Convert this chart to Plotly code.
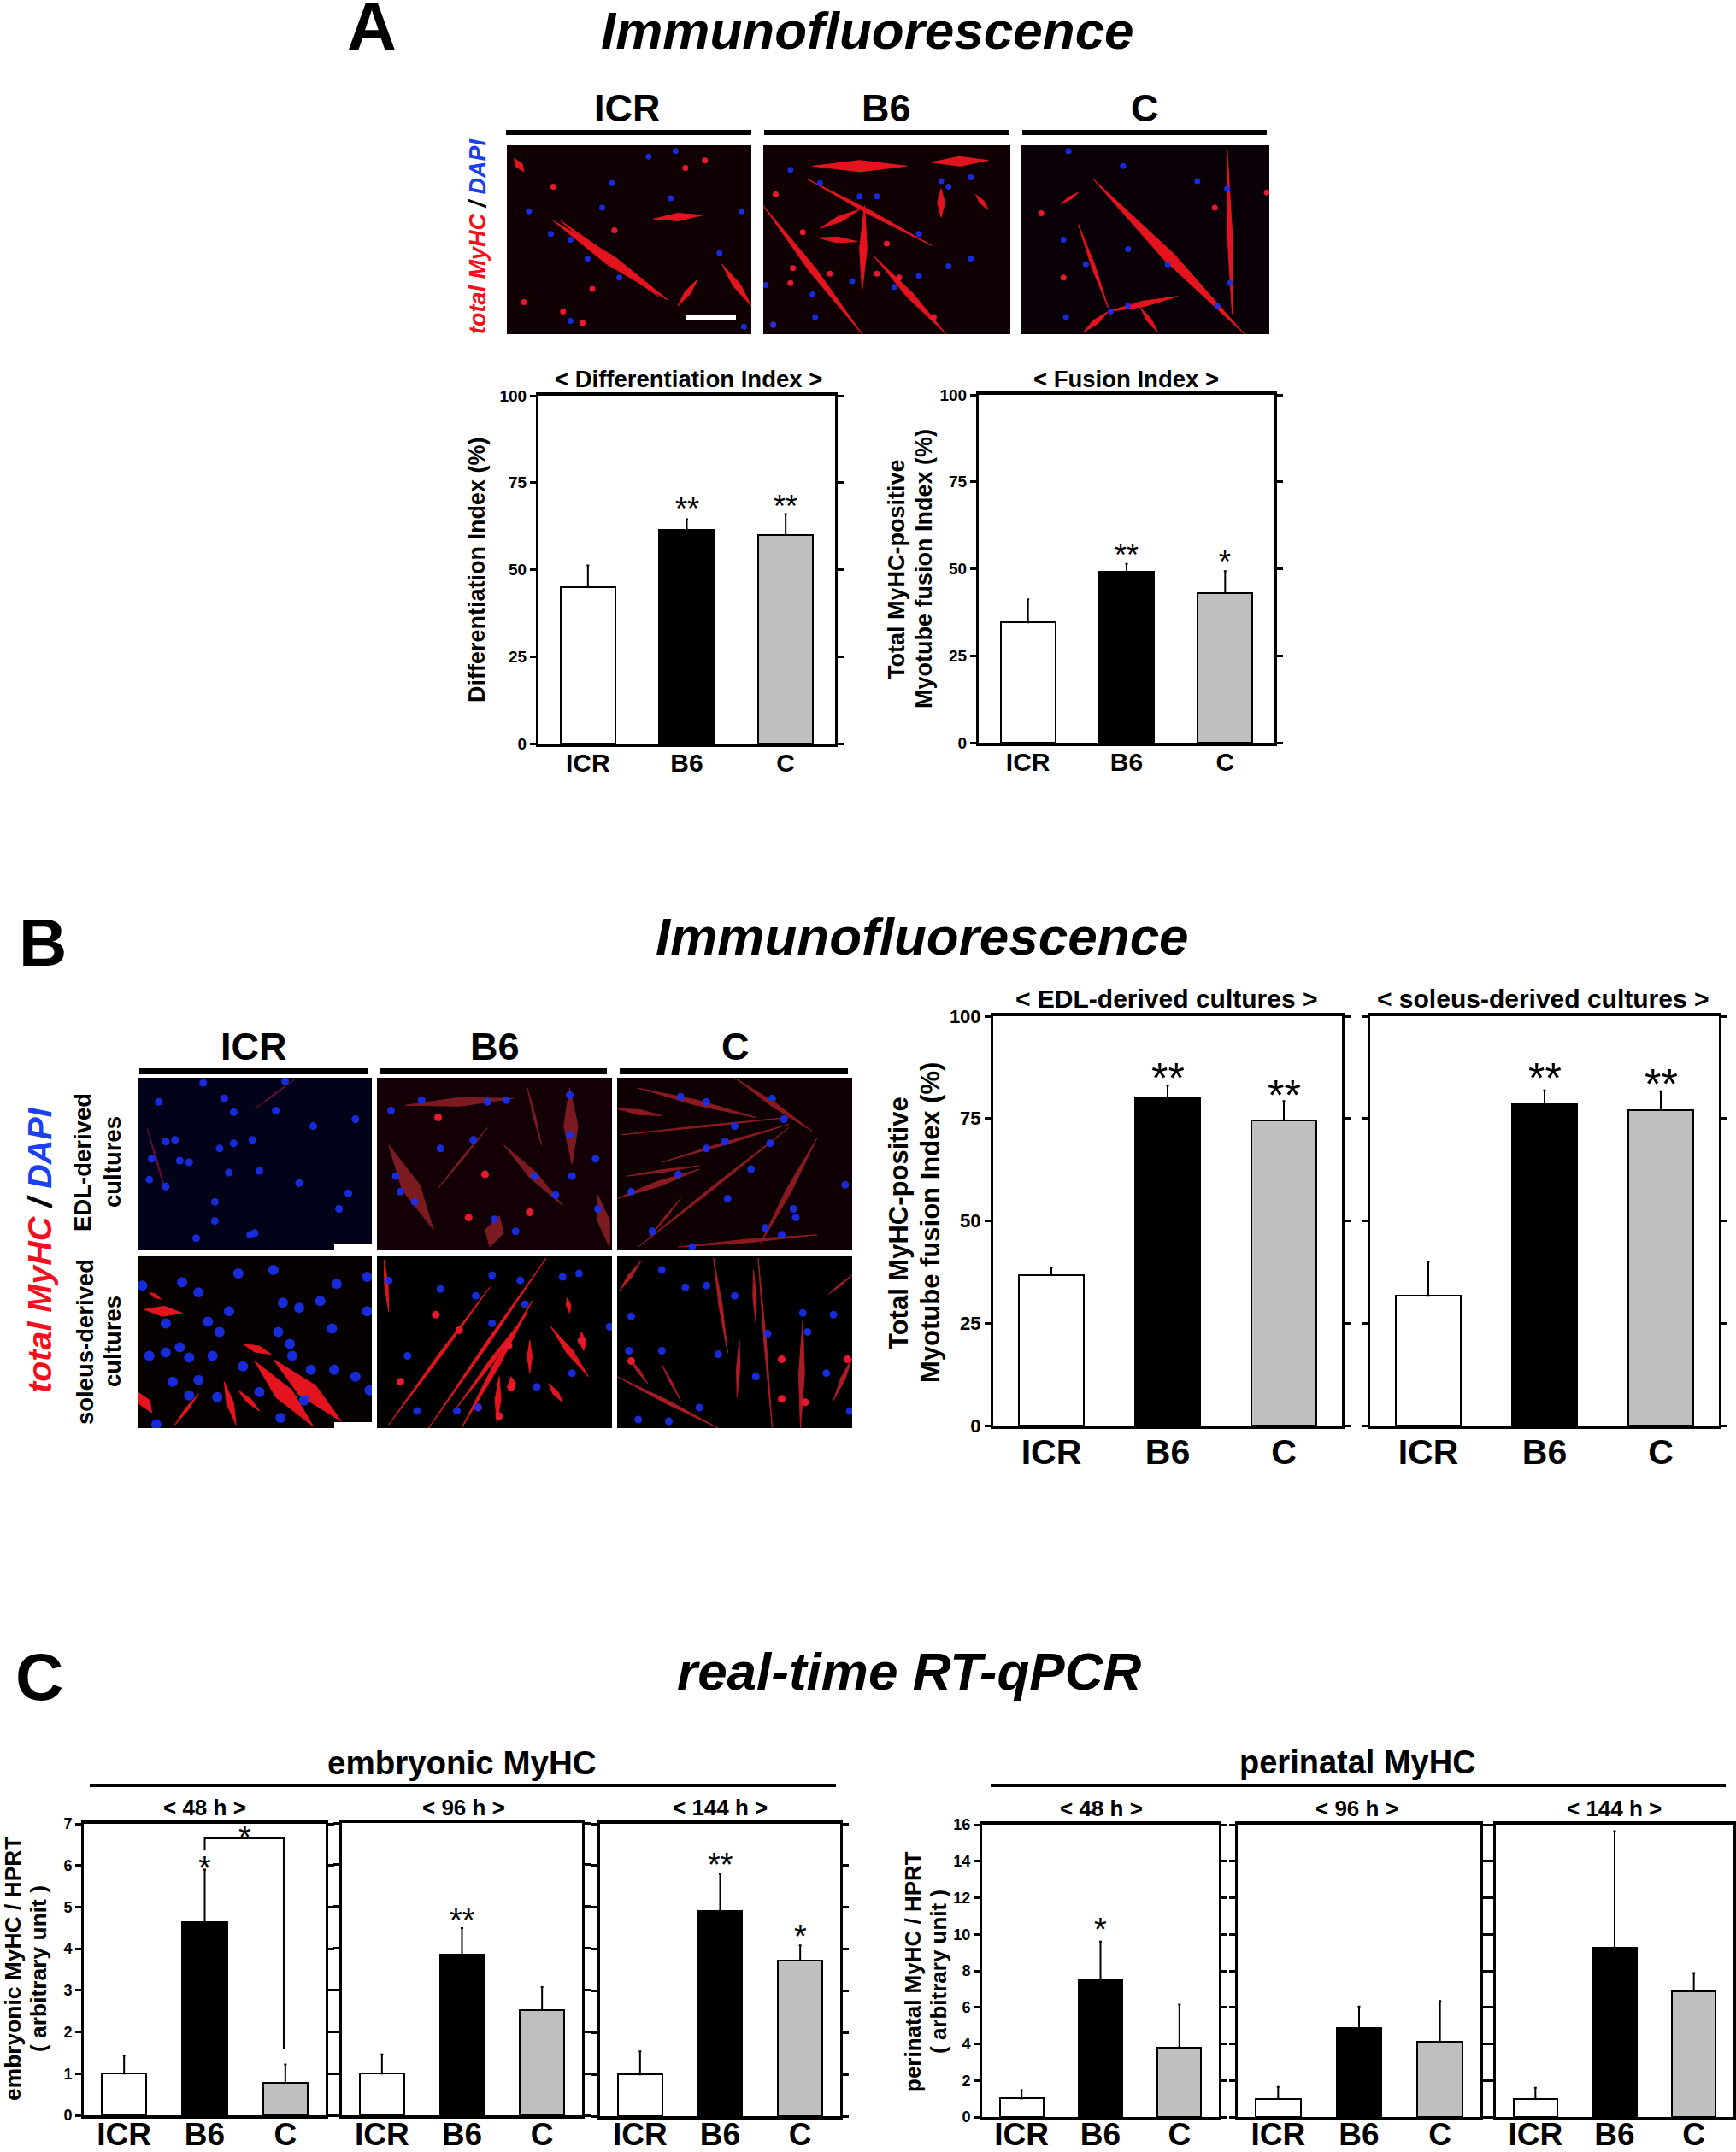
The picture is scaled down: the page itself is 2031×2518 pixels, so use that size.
import plotly.graph_objects as go

W = 2031
H = 2518
FONT = "Liberation Sans"

strains = ["ICR", "B6", "C"]
bar_colors = ["white", "black", "#bfbfbf"]

# panel A
diff_mean = [45, 61.5, 60]
diff_err = [6.2, 3, 6]
diff_stars = ["", "**", "**"]
diff_star_y = [0, 69.1, 70]
fus_mean = [34.6, 49.1, 43]
fus_err = [6.6, 2.3, 6.3]
fus_stars = ["", "**", "*"]
fus_star_y = [0, 55.7, 53.7]

# panel B
edl_mean = [36.8, 80, 74.6]
edl_err = [1.8, 3, 4.7]
edl_stars = ["", "**", "**"]
edl_star_y = [0, 86.8, 82.6]
sol_mean = [31.7, 78.4, 77.1]
sol_err = [8.3, 3.5, 4.6]
sol_stars = ["", "**", "**"]
sol_star_y = [0, 86.8, 85.4]

# panel C, embryonic
emb48_mean = [1, 4.63, 0.78]
emb48_err = [0.43, 1.27, 0.44]
emb48_stars = ["", "*", ""]
emb48_star_y = [0, 6.09, 0]
emb96_mean = [1, 3.85, 2.52]
emb96_err = [0.46, 0.63, 0.55]
emb96_stars = ["", "**", ""]
emb96_star_y = [0, 4.82, 0]
emb144_mean = [1, 4.92, 3.73]
emb144_err = [0.55, 0.88, 0.36]
emb144_stars = ["", "**", "*"]
emb144_star_y = [0, 6.18, 4.45]
bracket_x = [1.0, 1.0, 1.98, 1.98]
bracket_y = [6.36, 6.65, 6.65, 1.6]

# panel C, perinatal
per48_mean = [1.01, 7.52, 3.81]
per48_err = [0.46, 2.08, 2.34]
per48_stars = ["", "*", ""]
per48_star_y = [0, 10.6, 0]
per96_mean = [1, 4.85, 4.1]
per96_err = [0.65, 1.2, 2.25]
per96_stars = ["", "", ""]
per96_star_y = [0, 0, 0]
per144_mean = [1, 9.28, 6.9]
per144_err = [0.6, 6.37, 0.98]
per144_stars = ["", "", ""]
per144_star_y = [0, 0, 0]

# micrographs: what can be read off each photo, in percent of the photo
# fibres are x0, y0, x1, y1, thickness
a_icr_fibres = [(19, 40, 66, 82, 5), (22, 40, 62, 80, 3), (88, 63, 100, 85, 3), (78, 71, 70, 85, 2.5), (60, 39, 80, 37, 4), (3, 7, 7, 14, 3)]
a_icr_nuclei = [(58, 6), (69, 3), (43, 20), (67, 28), (39, 33), (96, 35), (18, 47), (33, 60), (87, 57), (26, 93), (97, 96), (9, 35), (26, 50), (46, 70)]
a_icr_spots = [(73, 12), (19, 22), (44, 45), (7, 83), (31, 94), (23, 88), (35, 76), (81, 8)]
a_b6_fibres = [(20, 11, 58, 11, 6), (68, 9, 91, 8, 5), (18, 18, 68, 53, 2), (0, 32, 40, 100, 3), (41, 32, 40, 77, 3), (45, 59, 74, 100, 3), (72, 23, 72, 38, 3), (86, 26, 91, 34, 2), (23, 44, 39, 34, 3), (22, 49, 38, 51, 3)]
a_b6_nuclei = [(23, 20), (39, 27), (46, 27), (72, 19), (75, 22), (84, 17), (11, 13), (63, 47), (84, 60), (75, 64), (63, 69), (20, 79), (21, 91), (4, 95), (36, 72), (1, 74), (53, 75)]
a_b6_spots = [(12, 65), (27, 68), (46, 68), (55, 70), (50, 52), (16, 46), (5, 26), (11, 73), (69, 91), (4, 95)]
a_c_fibres = [(29, 18, 90, 100, 5), (83, 2, 85, 89, 2), (23, 42, 35, 86, 1.5), (35, 88, 63, 80, 3), (35, 88, 25, 99, 2.5), (48, 86, 55, 99, 2), (16, 31, 23, 25, 1.5)]
a_c_nuclei = [(19, 3), (41, 11), (71, 19), (83, 23), (43, 55), (17, 50), (26, 63), (18, 91), (43, 85), (36, 88), (79, 85), (84, 73), (59, 63)]
a_c_spots = [(8, 36), (17, 70), (99, 25), (78, 33)]
b1_icr_fibres = [(4, 29, 12, 66, 0.8), (50, 18, 67, 1, 0.8)]
b1_icr_nuclei = [(28, 3), (63, 2), (9, 14), (37, 12), (41, 20), (59, 19), (93, 24), (75, 28), (49, 36), (41, 38), (35, 41), (16, 36), (12, 37), (6, 47), (18, 48), (22, 49), (39, 55), (52, 54), (5, 59), (12, 63), (69, 61), (90, 67), (33, 72), (86, 76), (33, 83), (48, 91), (50, 90), (25, 93)]
b1_b6_fibres = [(12, 16, 58, 12, 5), (54, 39, 79, 74, 4), (26, 64, 47, 29, 1), (5, 39, 24, 88, 8), (82, 6, 83, 50, 6), (48, 98, 52, 80, 8), (64, 6, 70, 39, 1), (94, 68, 99, 98, 5)]
b1_b6_nuclei = [(19, 13), (47, 14), (55, 13), (82, 10), (82, 33), (41, 36), (27, 41), (8, 57), (10, 66), (16, 72), (67, 57), (76, 68), (83, 57), (59, 89), (50, 82), (94, 76), (93, 47), (6, 19)]
b1_b6_spots = [(26, 23), (65, 78), (39, 81), (46, 56)]
b1_c_fibres = [(50, 0, 83, 31, 2.5), (9, 6, 59, 23, 3), (2, 33, 73, 23, 1), (4, 57, 35, 51, 1.5), (0, 70, 35, 53, 3), (19, 49, 73, 27, 1.5), (9, 98, 73, 29, 1.5), (61, 96, 85, 35, 2.5), (26, 98, 85, 91, 2), (0, 18, 19, 22, 3), (14, 92, 27, 70, 1)]
b1_c_nuclei = [(27, 11), (38, 14), (50, 28), (66, 12), (71, 24), (38, 41), (46, 37), (65, 38), (57, 53), (26, 56), (6, 66), (47, 70), (75, 76), (76, 81), (63, 87), (15, 89), (32, 98), (97, 62), (70, 91)]
b2_icr_fibres = [(45, 51, 57, 57, 4), (50, 61, 75, 99, 8), (58, 60, 87, 96, 9), (3, 31, 19, 33, 6), (37, 73, 42, 98, 3), (0, 79, 6, 91, 5), (5, 21, 10, 25, 2), (43, 78, 52, 90, 2.5), (16, 98, 26, 80, 1.5)]
b2_icr_nuclei = [(2, 17), (19, 15), (43, 10), (58, 8), (85, 16), (98, 12), (78, 26), (62, 27), (69, 30), (98, 32), (30, 38), (12, 39), (35, 44), (60, 44), (83, 42), (22, 59), (5, 58), (12, 56), (18, 53), (32, 58), (66, 58), (45, 64), (74, 66), (84, 66), (15, 73), (26, 72), (22, 81), (34, 82), (52, 79), (71, 84), (61, 94), (8, 98), (93, 70), (99, 78), (65, 51), (26, 21), (39, 32)]
b2_b6_fibres = [(22, 100, 72, 1, 1.5), (5, 98, 48, 18, 1.5), (36, 100, 66, 26, 2.5), (34, 88, 64, 33, 2), (74, 41, 90, 70, 3), (65, 49, 65, 68, 2), (87, 44, 88, 55, 3), (73, 74, 79, 85, 2.5), (3, 2, 5, 32, 1.5), (81, 24, 82, 33, 2), (52, 70, 51, 97, 2.5), (57, 70, 58, 78, 3)]
b2_b6_nuclei = [(42, 23), (63, 28), (49, 39), (79, 12), (99, 41), (68, 76), (83, 68), (34, 90), (17, 90), (13, 58), (49, 11), (86, 10), (27, 19), (5, 14), (61, 14), (43, 88)]
b2_b6_spots = [(25, 34), (10, 73), (43, 88), (52, 93), (87, 49), (35, 43), (56, 52), (57, 76)]
b2_c_fibres = [(41, 1, 47, 56, 1.5), (60, 1, 66, 100, 1), (52, 49, 51, 82, 1.5), (79, 37, 78, 100, 2.5), (0, 70, 43, 100, 2), (5, 59, 13, 74, 1.5), (19, 63, 27, 84, 1), (1, 20, 10, 3, 2), (92, 84, 100, 59, 2), (90, 22, 100, 11, 1), (58, 8, 59, 39, 1.5)]
b2_c_nuclei = [(19, 8), (29, 18), (38, 17), (50, 23), (79, 33), (92, 34), (6, 35), (64, 45), (5, 55), (19, 55), (43, 57), (81, 44), (59, 70), (89, 68), (35, 88), (22, 96), (9, 95), (99, 90)]
b2_c_spots = [(70, 60), (6, 61), (80, 85), (70, 83), (98, 60)]

fig = go.Figure()
layout = dict(
    width=W, height=H, autosize=False, showlegend=False, bargap=0,
    margin=dict(l=0, r=0, t=0, b=0, pad=0),
    paper_bgcolor="white", plot_bgcolor="rgba(0,0,0,0)",
    font=dict(family=FONT, color="black"),
)
annotations = []
shapes = []
n_axes = 0


def px_x(x):
    return x / W


def px_y(y):
    return 1 - y / H


def text(x, y, s, size, angle=0, bold=True):
    if bold:
        s = "<b>" + s + "</b>"
    annotations.append(dict(xref="paper", yref="paper", x=px_x(x), y=px_y(y), text=s,
                            showarrow=False, xanchor="center", yanchor="middle",
                            textangle=angle, font=dict(family=FONT, size=size, color="black")))


def rect(x0, y0, x1, y1, color, layer="above"):
    shapes.append(dict(type="rect", xref="paper", yref="paper", x0=px_x(x0), x1=px_x(x1),
                       y0=px_y(y0), y1=px_y(y1), fillcolor=color, line=dict(width=0), layer=layer))


def new_axes(x0, x1, y0, y1):
    global n_axes
    n_axes += 1
    suffix = "" if n_axes == 1 else str(n_axes)
    return suffix, [px_x(x0), px_x(x1)], [px_y(y1), px_y(y0)]


def bar_chart(x0, x1, y0, y1, mean, err, stars, star_y, ymax, dtick, tick_size, label_size, star_size, standoff, show_labels=True):
    suffix, xdom, ydom = new_axes(x0, x1, y0, y1)
    fig.add_trace(go.Bar(x=[0, 1, 2], y=mean, width=0.555,
                         xaxis="x" + suffix, yaxis="y" + suffix,
                         marker=dict(color=bar_colors, line=dict(color="black", width=2)),
                         error_y=dict(type="data", symmetric=False, array=err, arrayminus=[0, 0, 0],
                                      thickness=2, width=1.5, color="black")))
    layout["xaxis" + suffix] = dict(
        domain=xdom, anchor="y" + suffix, range=[-0.5, 2.5], tickmode="array", tickvals=[0, 1, 2],
        ticktext=["<b>%s</b>" % s for s in strains], tickfont=dict(family=FONT, size=label_size, color="black"),
        ticks="", ticklabelstandoff=standoff, showline=True, linewidth=4, automargin=False,
        linecolor="black", mirror=True, showgrid=False, zeroline=False)
    layout["yaxis" + suffix] = dict(
        domain=ydom, anchor="x" + suffix, range=[0, ymax], dtick=dtick, tickfont=dict(family=FONT, size=tick_size, color="black"),
        showticklabels=show_labels, automargin=False,
        tickformat="d", tickprefix="<b>", ticksuffix="</b>", ticks="outside", ticklen=7, tickwidth=3, tickcolor="black",
        showline=True, linewidth=3, linecolor="black", mirror="ticks", showgrid=False, zeroline=False)
    for i, s in enumerate(stars):
        if s:
            annotations.append(dict(xref="x" + suffix, yref="y" + suffix, x=i, y=star_y[i], text=s, showarrow=False,
                                    yanchor="middle", yshift=-star_size * 0.2, font=dict(family=FONT, size=star_size, color="black")))
    return suffix


def photo(x0, x1, y0, y1, background, fibres, nuclei, spots=(), fibre_color="#e3141e", nucleus_size=9):
    suffix, xdom, ydom = new_axes(x0, x1, y0, y1)
    rect(x0, y0, x1, y1, background, layer="below")
    fx, fy = [], []
    for a, b, c, d, w in fibres:
        # spindle outline around the fibre, widest in the middle
        dx, dy = c - a, d - b
        length = (dx * dx + dy * dy) ** 0.5
        nx, ny = -dy / length * w / 2, dx / length * w / 2
        mx, my = (a + c) / 2, (b + d) / 2
        fx += [a, mx + nx, c, mx - nx, a, None]
        fy += [b, my + ny, d, my - ny, b, None]
    fig.add_trace(go.Scatter(x=fx, y=fy, mode="lines", fill="toself", fillcolor=fibre_color,
                             line=dict(color=fibre_color, width=1), xaxis="x" + suffix, yaxis="y" + suffix))
    if spots:
        fig.add_trace(go.Scatter(x=[p[0] for p in spots], y=[p[1] for p in spots], mode="markers",
                                 marker=dict(color="#e8192c", size=nucleus_size), xaxis="x" + suffix, yaxis="y" + suffix))
    fig.add_trace(go.Scatter(x=[p[0] for p in nuclei], y=[p[1] for p in nuclei], mode="markers",
                             marker=dict(color="#1a30f0", size=nucleus_size, opacity=0.9),
                             xaxis="x" + suffix, yaxis="y" + suffix))
    layout["xaxis" + suffix] = dict(domain=xdom, anchor="y" + suffix, range=[0, 100], visible=False, automargin=False)
    layout["yaxis" + suffix] = dict(domain=ydom, anchor="x" + suffix, range=[100, 0], visible=False, automargin=False)


# ---- panel A ----
# the letter sits right at the top edge in the reference too
text(435, 30, "A", 80)
text(1015, 35, "<i>Immunofluorescence</i>", 62)
for cx, s in zip([734, 1037, 1339], strains):
    text(cx, 126, s, 45)
rect(592, 152, 879, 158, "black")
rect(894, 152, 1181, 158, "black")
rect(1196, 152, 1482, 158, "black")
photo(593, 879, 170, 391, "#100003", a_icr_fibres, a_icr_nuclei, a_icr_spots, nucleus_size=7)
photo(893, 1182, 170, 391, "#100003", a_b6_fibres, a_b6_nuclei, a_b6_spots, nucleus_size=7)
photo(1195, 1485, 170, 391, "#0a0008", a_c_fibres, a_c_nuclei, a_c_spots, nucleus_size=7)
rect(802, 369, 861, 375, "white")
text(559, 277, '<i><span style="color:#f01020">total MyHC</span> / <span style="color:#1a40f0">DAPI</span></i>', 27, angle=-90)

text(805, 443, "&lt; Differentiation Index &gt;", 27.5)
text(1317, 443, "&lt; Fusion Index &gt;", 27.5)
bar_chart(630, 977, 463, 870, diff_mean, diff_err, diff_stars, diff_star_y, 100, 25, 19, 30, 36, -7)
bar_chart(1145, 1491, 462, 869, fus_mean, fus_err, fus_stars, fus_star_y, 100, 25, 19, 30, 36, -7)
text(558, 667, "Differentiation Index (%)", 27, angle=-90)
text(1049, 666, "Total MyHC-positive", 27, angle=-90)
text(1081, 666, "Myotube fusion Index (%)", 27, angle=-90)

# ---- panel B ----
text(50, 1103, "B", 78)
text(1079, 1095, "<i>Immunofluorescence</i>", 62)
for cx, s in zip([297, 579, 860], strains):
    text(cx, 1224, s, 45)
rect(163, 1250, 431, 1257, "black")
rect(444, 1250, 710, 1257, "black")
rect(725, 1250, 992, 1257, "black")
photo(161, 435, 1261, 1463, "#02021a", b1_icr_fibres, b1_icr_nuclei, fibre_color="#5a1030")
photo(441, 716, 1261, 1463, "#120006", b1_b6_fibres, b1_b6_nuclei, b1_b6_spots, fibre_color="#7c1a22")
photo(722, 997, 1261, 1463, "#0e0003", b1_c_fibres, b1_c_nuclei, fibre_color="#8a1a20")
photo(161, 435, 1470, 1671, "#060000", b2_icr_fibres, b2_icr_nuclei, nucleus_size=12)
photo(441, 716, 1470, 1671, "black", b2_b6_fibres, b2_b6_nuclei, b2_b6_spots)
photo(722, 997, 1470, 1671, "black", b2_c_fibres, b2_c_nuclei, b2_c_spots, fibre_color="#a81c26")
rect(391, 1456, 435, 1463, "white")
rect(391, 1664, 435, 1671, "white")
text(46, 1463, '<i><span style="color:#f01020">total MyHC</span> / <span style="color:#1a40f0">DAPI</span></i>', 39.5, angle=-90)
text(96, 1360, "EDL-derived", 27.5, angle=-90)
text(131, 1360, "cultures", 27.5, angle=-90)
text(99, 1570, "soleus-derived", 27.5, angle=-90)
text(131, 1570, "cultures", 27.5, angle=-90)

text(1364, 1168, "&lt; EDL-derived cultures &gt;", 30)
text(1805, 1168, "&lt; soleus-derived cultures &gt;", 30)
bar_chart(1162, 1570, 1189, 1668, edl_mean, edl_err, edl_stars, edl_star_y, 100, 25, 22, 41, 50, -8)
bar_chart(1603, 2011, 1189, 1668, sol_mean, sol_err, sol_stars, sol_star_y, 100, 25, 22, 41, 50, -8, show_labels=False)
text(1051, 1431, "Total MyHC-positive", 31, angle=-90)
text(1088, 1431, "Myotube fusion Index (%)", 31, angle=-90)

# ---- panel C ----
text(46, 1962, "C", 78)
text(1063, 1955, "<i>real-time RT-qPCR</i>", 62)
text(540, 2062, "embryonic MyHC", 38.5)
rect(105, 2087, 978, 2091, "black")
text(1588, 2062, "perinatal MyHC", 38)
rect(1159, 2087, 2019, 2091, "black")
for cx, s in zip([239, 542, 842], ["48", "96", "144"]):
    text(cx, 2115, "&lt; %s h &gt;" % s, 26)
for cx, s in zip([1288, 1587, 1888], ["48", "96", "144"]):
    text(cx, 2116, "&lt; %s h &gt;" % s, 26)

emb = bar_chart(98, 381, 2134, 2475, emb48_mean, emb48_err, emb48_stars, emb48_star_y, 7, 1, 18, 37, 38, -13)
fig.add_trace(go.Scatter(x=bracket_x, y=bracket_y, mode="lines", line=dict(color="black", width=2),
                         xaxis="x" + emb, yaxis="y" + emb))
annotations.append(dict(xref="x" + emb, yref="y" + emb, x=1.5, y=6.81, text="*", showarrow=False, yanchor="middle",
                        yshift=-7, font=dict(family=FONT, size=38, color="black")))
bar_chart(400, 681, 2133, 2475, emb96_mean, emb96_err, emb96_stars, emb96_star_y, 7, 1, 18, 37, 38, -13, show_labels=False)
bar_chart(702, 983, 2134, 2476, emb144_mean, emb144_err, emb144_stars, emb144_star_y, 7, 1, 18, 37, 38, -14, show_labels=False)
text(15, 2304, "embryonic MyHC / HPRT", 26.4, angle=-90)
text(45, 2304, "( arbitrary unit )", 26.4, angle=-90)

bar_chart(1149, 1426, 2135, 2477, per48_mean, per48_err, per48_stars, per48_star_y, 16, 2, 18, 37, 38, -15)
bar_chart(1448, 1732, 2135, 2477, per96_mean, per96_err, per96_stars, per96_star_y, 16, 2, 18, 37, 38, -15, show_labels=False)
bar_chart(1750, 2028, 2135, 2477, per144_mean, per144_err, per144_stars, per144_star_y, 16, 2, 18, 37, 38, -15, show_labels=False)
text(1068, 2307, "perinatal MyHC / HPRT", 26, angle=-90)
text(1098, 2307, "( arbitrary unit )", 26, angle=-90)

layout["annotations"] = annotations
layout["shapes"] = shapes
fig.update_layout(**layout)
fig.write_html("out.html", config={"displayModeBar": False}, post_script="document.body.style.margin='0';")
